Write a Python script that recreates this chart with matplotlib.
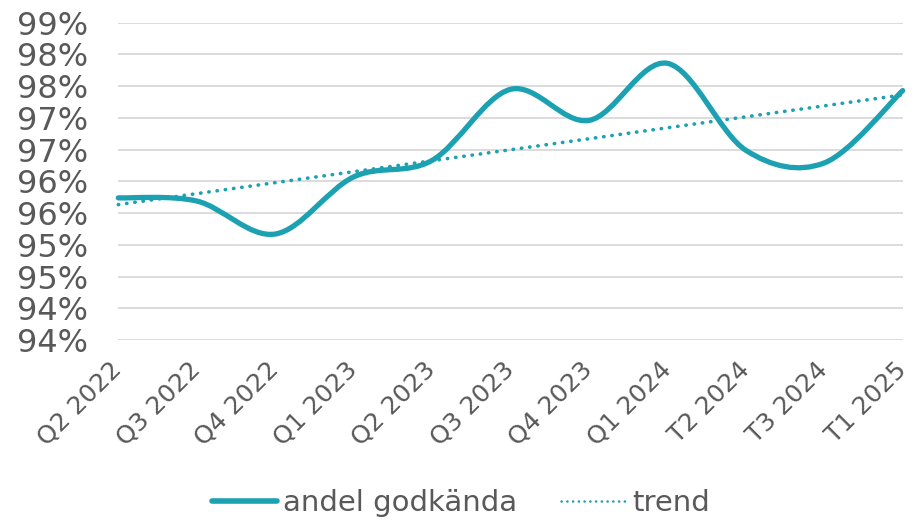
import numpy as np
import matplotlib
matplotlib.use('Agg')
import matplotlib.pyplot as plt
from matplotlib.path import Path
from matplotlib.patches import PathPatch
from matplotlib.lines import Line2D


# data
quarters = ['Q2 2022', 'Q3 2022', 'Q4 2022', 'Q1 2023', 'Q2 2023', 'Q3 2023',
            'Q4 2023', 'Q1 2024', 'T2 2024', 'T3 2024', 'T1 2025']
andel    = [95.99, 95.94, 95.42, 96.32, 96.58, 97.70, 97.21, 98.11, 96.74, 96.54, 97.68]
yticks   = [93.75, 94.25, 94.75, 95.25, 95.75, 96.25, 96.75, 97.25, 97.75, 98.25, 98.75]

color = '#1ba1b1'
gray  = '#595959'

x = np.arange(len(quarters))
y = np.array(andel)

# smoothed line like the spreadsheet (catmull-rom as cubic bezier)
verts = [(x[0], y[0])]
codes = [Path.MOVETO]
xp = np.concatenate([[x[0]], x, [x[-1]]])
yp = np.concatenate([[y[0]], y, [y[-1]]])
for i in range(len(x) - 1):
	j = i + 1
	c1 = (xp[j] + (xp[j+1] - xp[j-1]) / 6, yp[j] + (yp[j+1] - yp[j-1]) / 6)
	c2 = (xp[j+1] - (xp[j+2] - xp[j]) / 6, yp[j+1] - (yp[j+2] - yp[j]) / 6)
	verts += [c1, c2, (x[i+1], y[i+1])]
	codes += [Path.CURVE4] * 3

# linear trend
k, m = np.polyfit(x, y, 1)
trend = k * x + m


fig = plt.figure(figsize=(9.18, 5.24), dpi=100)
ax = fig.add_axes([0.1289, 0.3511, 0.8544, 0.6056])

ax.add_patch(PathPatch(Path(verts, codes), facecolor='none', edgecolor=color,
                       lw=3.8, capstyle='round', joinstyle='round', clip_on=False, zorder=3))
ax.plot(x, trend, color=color, lw=2.6, linestyle=(0, (0.1, 2.2)),
        dash_capstyle='round', clip_on=False, zorder=4)

ax.set_xlim(0, len(quarters) - 1)
ax.set_ylim(yticks[0], yticks[-1])
ax.set_yticks(yticks)
ax.set_yticklabels(['%.0f%%' % v for v in yticks])
ax.set_xticks(x)
ax.set_xticklabels(quarters, rotation=45, ha='right', va='center', rotation_mode='anchor')
ax.grid(axis='y', color='#d9d9d9', lw=1.3)
ax.set_axisbelow(True)
for s in ax.spines.values():
	s.set_visible(False)
ax.tick_params(axis='both', length=0, colors=gray)
ax.tick_params(axis='y', pad=22, labelsize=23)
ax.tick_params(axis='x', pad=19, labelsize=18)

handles = [Line2D([], [], color=color, lw=4.0, solid_capstyle='round'),
           Line2D([], [], color=color, lw=1.8, linestyle=(0, (0.1, 2.2)), dash_capstyle='round')]
fig.legend(handles, ['andel godkända', 'trend'], loc='center',
           bbox_to_anchor=(0.502, 0.040), ncol=2, frameon=False, fontsize=21,
           handlelength=2.25, handletextpad=0.2, columnspacing=1.5, labelcolor=gray)

fig.savefig('out.png', dpi=100)
